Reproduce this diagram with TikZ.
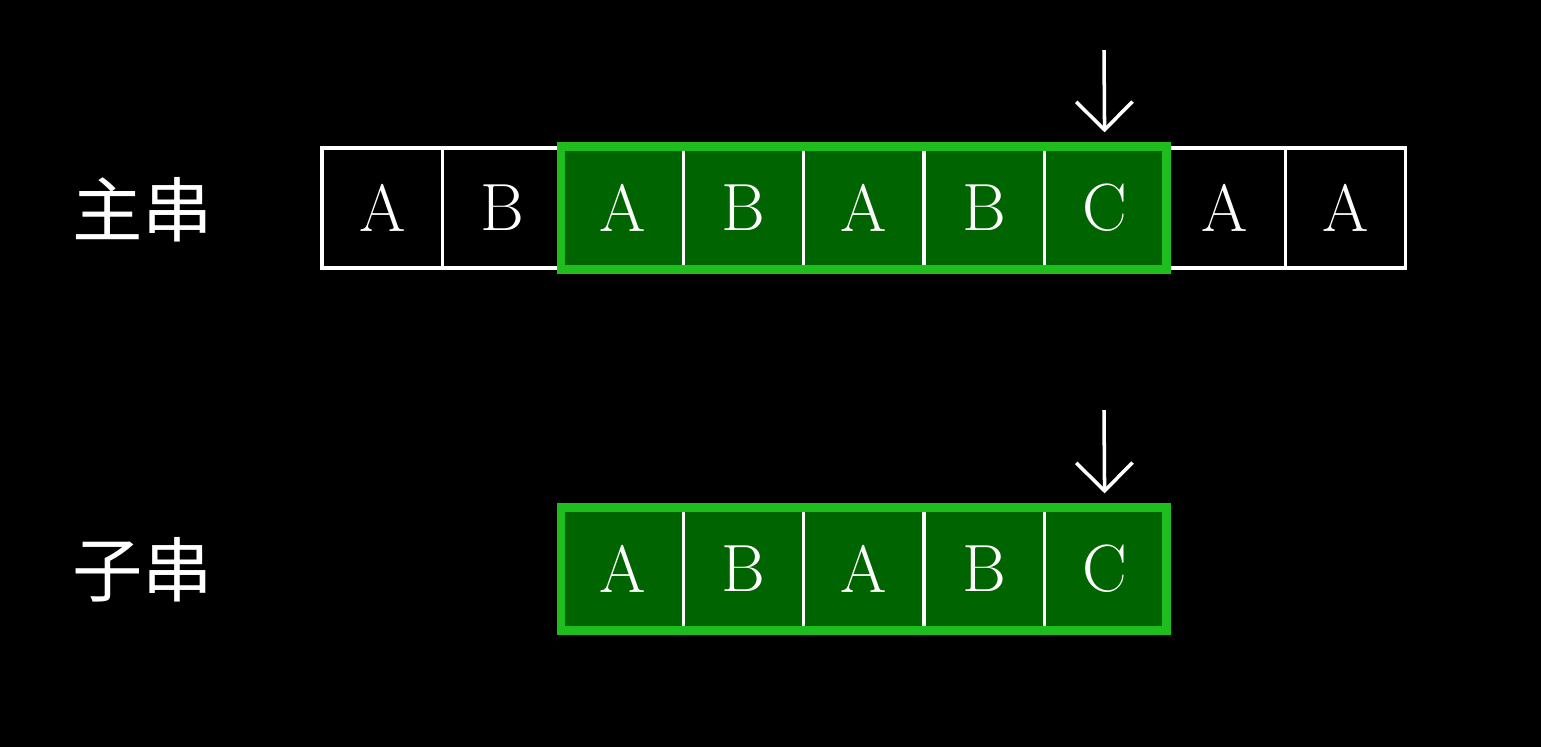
\documentclass[tikz,border=0pt]{standalone}
\usepackage{fontspec}
\newfontfamily\cjk{Noto Sans CJK SC}
\usetikzlibrary{positioning, arrows.meta}
\definecolor{matchfill}{RGB}{0,100,0}
\definecolor{matchline}{RGB}{30,190,30}
\tikzset{
  cell/.style={draw=white, line width=0.9pt, minimum width=1.204cm, minimum height=1.2cm,
    inner sep=0pt, text=white, font=\fontsize{19}{19}\selectfont},
  hit/.style={cell, fill=matchfill},
  frame/.style={draw=matchline, line width=2.4pt},
  label/.style={text=white, font=\cjk\fontsize{20}{20}\selectfont}
}
\begin{document}
\begin{tikzpicture}[x=0.01cm, y=-0.01cm]
	\useasboundingbox[fill=black] (0,0) rectangle (1541,747);
	% main string
	\foreach \c [count=\i] in {A,B,A,B,A,B,C,A,A} {
		\ifnum\i>2 \ifnum\i<8
			\node[hit] (m\i) at ({322+(\i-0.5)*120.4},208) {\c};
		\else
			\node[cell] (m\i) at ({322+(\i-0.5)*120.4},208) {\c};
		\fi\else
			\node[cell] (m\i) at ({322+(\i-0.5)*120.4},208) {\c};
		\fi
	}
	\draw[frame] (m3.north west) rectangle (m7.south east);
	\node[label] (main) at (143,210) {主串};
	
	% pattern
	\foreach \c [count=\i from 3] in {A,B,A,B,C} {
		\node[hit] (s\i) at ({322+(\i-0.5)*120.4},569) {\c};
	}
	\draw[frame] (s3.north west) rectangle (s7.south east);
	\node[label] (sub) at (143,570) {子串};
	
	% pointers
	\coordinate (p1) at (1104,50);
	\coordinate (p2) at (1104,410);
	\draw[white, line width=1pt, -{Straight Barb[length=8pt,width=16pt]}] (p1) -- ([yshift=4]m7.north);
	\draw[white, line width=1pt, -{Straight Barb[length=8pt,width=16pt]}] (p2) -- ([yshift=4]s7.north);
\end{tikzpicture}
\end{document}
